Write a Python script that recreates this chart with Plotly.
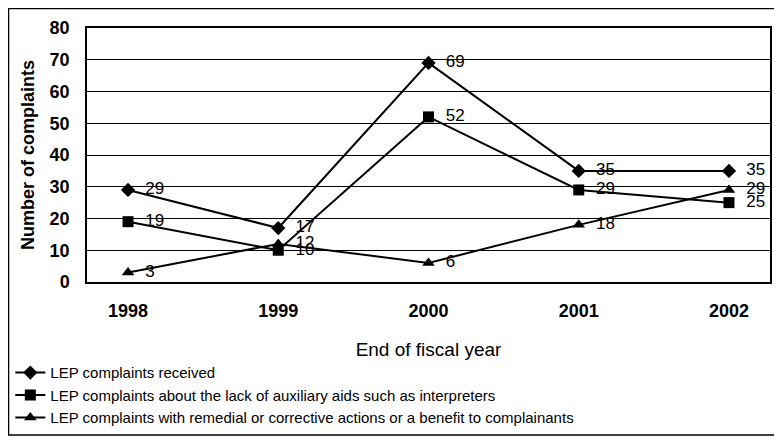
import plotly.graph_objects as go

years = ["1998", "1999", "2000", "2001", "2002"]
received = [29, 17, 69, 35, 35]
aux_aids = [19, 10, 52, 29, 25]
remedial = [3, 12, 6, 18, 29]
series_names = [
    "LEP complaints received",
    "LEP complaints about the lack of auxiliary aids such as interpreters",
    "LEP complaints with remedial or corrective actions or a benefit to complainants",
]
y_ticks = [0, 10, 20, 30, 40, 50, 60, 70, 80]
y_title = "Number of complaints"
x_title = "End of fiscal year"

FONT = "Liberation Sans, Arial, sans-serif"

fig = go.Figure()
for name, vals, sym in zip(series_names, [received, aux_aids, remedial],
                           ["diamond", "square", "triangle-up"]):
    fig.add_trace(go.Scatter(
        x=years, y=vals, name=name, mode="lines+markers+text",
        text=[str(v) for v in vals], texttemplate="  %{text}",
        textposition="middle right",
        textfont=dict(family=FONT, size=17, color="black"),
        line=dict(color="black", width=2),
        marker=dict(symbol=sym, size=11, color="black"),
    ))

fig.update_layout(
    width=774, height=430,
    margin=dict(l=79, r=12, t=20, b=156, autoexpand=False),
    paper_bgcolor="white", plot_bgcolor="white",
    font=dict(family=FONT, color="black"),
    showlegend=True,
    legend=dict(xref="container", yref="container", x=0.003, y=0.19,
                xanchor="left", yanchor="top",
                font=dict(family=FONT, size=15, color="black"),
                tracegroupgap=0, itemwidth=30, bgcolor="rgba(0,0,0,0)"),
    shapes=[dict(type="rect", xref="paper", yref="paper",
                 x0=-0.1149, x1=1.0146, y0=-0.6024, y1=1.0768,
                 line=dict(color="black", width=1.5))],
    annotations=[dict(text=y_title, textangle=-90, xref="paper", yref="paper",
                      x=-0.0864, y=0.5, xanchor="center", yanchor="middle",
                      showarrow=False,
                      font=dict(family=FONT, size=18, weight="bold", color="black"))],
)
fig.update_xaxes(
    type="category", showgrid=False, showline=True, mirror=True,
    linecolor="black", linewidth=1.5, ticks="",
    ticklabelstandoff=12,
    tickfont=dict(size=18, weight="bold", color="black"),
    title=dict(text=x_title, standoff=22,
               font=dict(family=FONT, size=19, color="black")),
)
fig.update_yaxes(
    range=[0, 80], tickvals=y_ticks, showgrid=True, gridcolor="black",
    gridwidth=1, showline=True, mirror=True, linecolor="black", linewidth=1.5,
    zeroline=False, ticks="", ticklabelstandoff=12,
    tickfont=dict(size=18, weight="bold", color="black"),
)

fig.write_html("out.html")
